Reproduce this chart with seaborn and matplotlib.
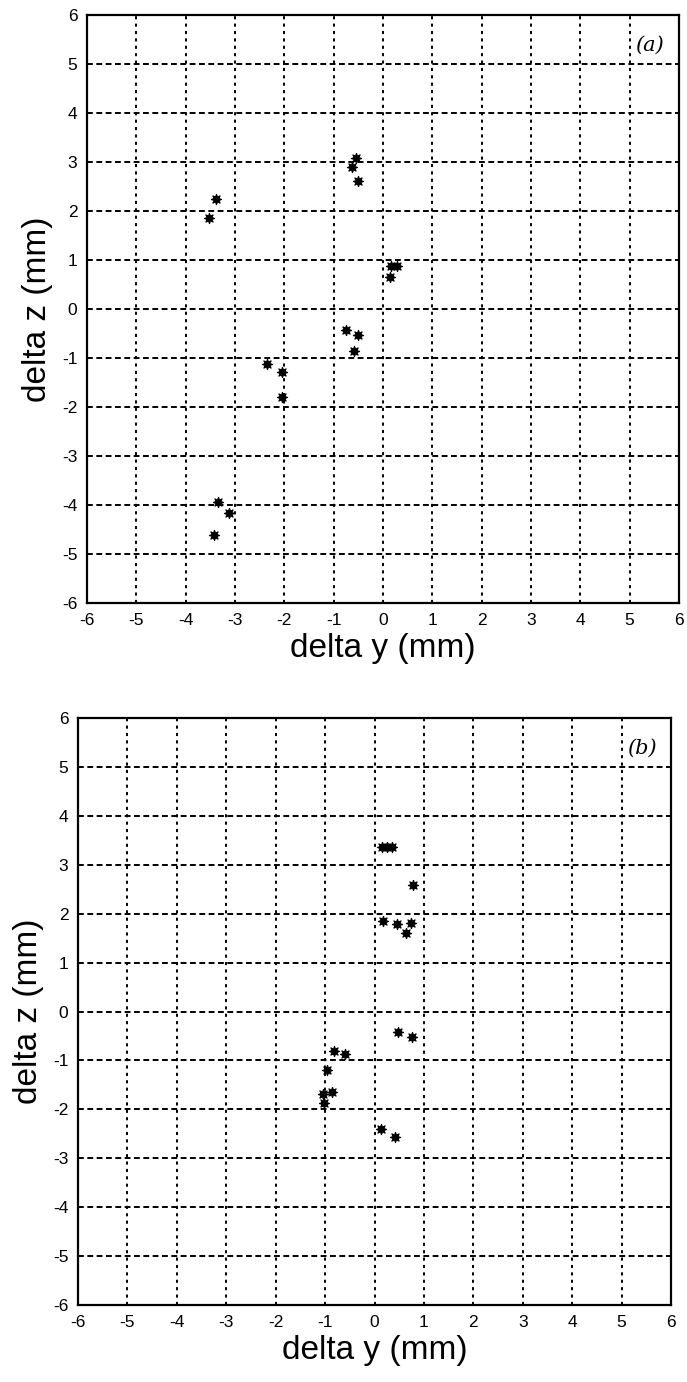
import matplotlib
matplotlib.use("Agg")
import matplotlib.pyplot as plt
import seaborn as sns
import pandas as pd
import numpy as np

# Panel (a) data: delta y, delta z (mm)
a_dy = [-0.55, -0.63, -0.51, -3.39, -3.52, 0.17, 0.29, 0.15, -0.75, -0.51, -0.59,
        -2.35, -2.04, -2.04, -3.34, -3.12, -3.42]
a_dz = [3.09, 2.90, 2.61, 2.25, 1.86, 0.88, 0.88, 0.66, -0.42, -0.54, -0.86,
        -1.12, -1.29, -1.79, -3.93, -4.16, -4.61]

# Panel (b) data
b_dy = [0.15, 0.25, 0.35, 0.78, 0.17, 0.45, 0.73, 0.64, 0.47, 0.75, -0.81, -0.59,
        -0.97, -0.85, -1.05, -1.02, 0.14, 0.41]
b_dz = [3.37, 3.37, 3.37, 2.59, 1.84, 1.79, 1.80, 1.60, -0.41, -0.53, -0.81, -0.86,
        -1.20, -1.64, -1.69, -1.87, -2.41, -2.56]

ticks = list(range(-6, 7))
panel_labels = ["(a)", "(b)"]

sns.set_style("white")
plt.rcParams['font.family'] = ['Liberation Sans', 'DejaVu Sans']
plt.rcParams['axes.unicode_minus'] = False
plt.rcParams['text.color'] = 'black'
plt.rcParams['axes.labelcolor'] = 'black'

fig = plt.figure(figsize=(6.87, 13.82), dpi=100)
ax_a = fig.add_axes([87/687, 1 - 603/1382, (679-87)/687, (603-15)/1382])
ax_b = fig.add_axes([78/687, 1 - 1305/1382, (671-78)/687, (1305-718)/1382])

for ax, dy, dz, lab in [(ax_a, a_dy, a_dz, panel_labels[0]),
                        (ax_b, b_dy, b_dz, panel_labels[1])]:
    df = pd.DataFrame({"dy": dy, "dz": dz})
    ax.set_xlim(-6, 6)
    ax.set_ylim(-6, 6)
    ax.set_xticks(ticks)
    ax.set_yticks(ticks)
    # grid: vertical dotted, horizontal dashed
    for t in ticks[1:-1]:
        ax.axvline(t, color="black", lw=1.4, ls=(0, (1.6, 2.2)), zorder=1)
        ax.axhline(t, color="black", lw=1.4, ls=(0, (3.0, 1.8)), zorder=1)
    sns.scatterplot(data=df, x="dy", y="dz", ax=ax, marker=(8, 1, 0), s=55,
                    color="black", edgecolor="black", linewidth=0.8, zorder=3,
                    legend=False)
    for sp in ax.spines.values():
        sp.set_visible(True)
        sp.set_color("black")
        sp.set_linewidth(1.6)
    ax.tick_params(axis="both", direction="inout", length=6, width=1.0,
                   labelsize=12.5, pad=4, colors="black")
    ax.set_xlabel("delta y (mm)", fontsize=24, labelpad=4, color="black")
    ax.set_ylabel("delta z (mm)", fontsize=24, labelpad=6, color="black")
    ax.text(0.975, 0.965, lab, transform=ax.transAxes, ha="right", va="top",
            fontsize=15, family="DejaVu Serif", style="italic", color="black")

fig.savefig("out.png", dpi=100)
